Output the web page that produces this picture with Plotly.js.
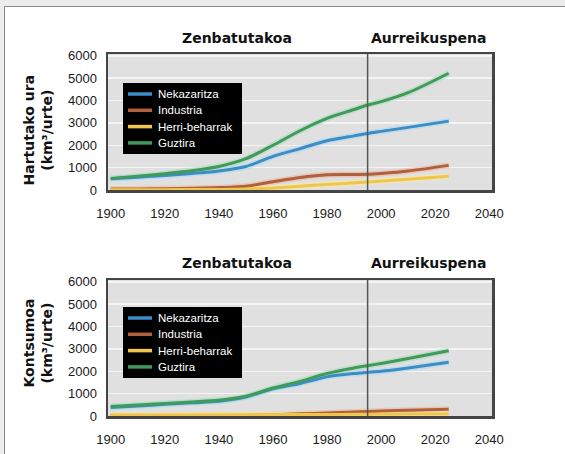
<!DOCTYPE html>
<html>
<head>
<meta charset="utf-8">
<script src="https://cdn.plot.ly/plotly-3.0.1.min.js"></script>
<style>
html,body{margin:0;padding:0;background:#ececec;overflow:hidden;}
#panel{position:absolute;left:4px;top:6px;width:570px;height:460px;background:#fff;border:1px solid #8a8a8a;}
#chart{position:absolute;left:0;top:0;width:565px;height:454px;}
</style>
</head>
<body>
<div id="panel"></div>
<div id="chart"></div>
<script>
// ---- data ----
const years = [1900, 1910, 1920, 1930, 1940, 1950, 1960, 1970, 1980, 1990, 1995, 2000, 2010, 2025];
const seriesNames = ["Nekazaritza", "Industria", "Herri-beharrak", "Guztira"];
const seriesColors = ["#3d8cc4", "#b0603c", "#f0c64a", "#3f9a5c"];
const haloColors = ["#a9d8f5", "#e8b8a0", "#fbe7a0", "#a9dcb8"];

// Hartutako ura (withdrawal), km3/urte
const withdrawNekazaritza = [500, 570, 650, 740, 850, 1050, 1500, 1850, 2200, 2420, 2530, 2620, 2800, 3080];
const withdrawIndustria   = [40, 50, 60, 80, 110, 170, 370, 560, 680, 690, 700, 740, 850, 1100];
const withdrawHerri       = [10, 12, 15, 20, 25, 40, 90, 170, 250, 320, 360, 400, 480, 620];
const withdrawGuztira     = [520, 620, 730, 860, 1050, 1400, 2000, 2650, 3200, 3600, 3800, 3950, 4350, 5220];

// Kontsumoa (consumption), km3/urte
const consumeNekazaritza = [380, 450, 520, 590, 660, 850, 1220, 1450, 1750, 1900, 1950, 2000, 2150, 2400];
const consumeIndustria   = [10, 12, 15, 18, 20, 25, 50, 100, 130, 180, 200, 220, 260, 300];
const consumeHerri       = [50, 50, 50, 50, 50, 55, 60, 65, 70, 75, 80, 80, 85, 90];
const consumeGuztira     = [420, 490, 560, 630, 700, 880, 1250, 1550, 1900, 2150, 2250, 2350, 2570, 2920];

const xTicks = [1900, 1920, 1940, 1960, 1980, 2000, 2020, 2040];
const yTicks = [0, 1000, 2000, 3000, 4000, 5000, 6000];
const panelTitleLeft = "Zenbatutakoa";
const panelTitleRight = "Aurreikuspena";
const splitYear = 1995;
const yTitleTop = "Hartutako ura<br>(km³/urte)";
const yTitleBottom = "Kontsumoa<br>(km³/urte)";

// ---- helpers ----
const W = 565, H = 454;
const px = v => v / W;
const py = v => 1 - v / H;

const narrow = '"Liberation Sans Narrow", "Liberation Sans", sans-serif';
const tickFont = {family: narrow, size: 13, color: '#1a1a1a'};
const boldFont = {family: '"DejaVu Sans", sans-serif', size: 14, color: '#111', weight: 'bold'};

// ---- traces ----
const topData = [withdrawNekazaritza, withdrawIndustria, withdrawHerri, withdrawGuztira];
const botData = [consumeNekazaritza, consumeIndustria, consumeHerri, consumeGuztira];
const traces = [];
function addSeries(dataSets, xa, ya) {
  dataSets.forEach((ys, i) => {
    traces.push({x: years, y: ys, type: 'scatter', mode: 'lines', showlegend: false, hoverinfo: 'skip',
      line: {color: haloColors[i], width: 6, shape: 'spline', smoothing: 0.8}, opacity: 0.6,
      xaxis: xa, yaxis: ya, cliponaxis: false});
  });
  dataSets.forEach((ys, i) => {
    traces.push({x: years, y: ys, type: 'scatter', mode: 'lines', name: seriesNames[i], showlegend: false,
      line: {color: seriesColors[i], width: 3, shape: 'spline', smoothing: 0.8},
      xaxis: xa, yaxis: ya, cliponaxis: false});
  });
}
addSeries(topData, 'x', 'y');
addSeries(botData, 'x2', 'y2');

function xAxis(anchor) {
  return {domain: [px(108), px(492)], range: [1899, 2041], tickvals: xTicks, ticktext: xTicks.map(String),
    showgrid: false, zeroline: false, showline: true, mirror: true, linecolor: '#454545', linewidth: 2.5,
    ticks: '', tickfont: tickFont, ticklabelstandoff: 10, anchor: anchor, fixedrange: true};
}
function yAxis(anchor, domain) {
  return {domain: domain, range: [0, 6080], tickvals: yTicks, ticktext: yTicks.map(String),
    showgrid: true, gridcolor: '#f4f4f4', gridwidth: 1.5, zeroline: false, showline: true, mirror: true,
    linecolor: '#454545', linewidth: 2.5, ticks: '', tickfont: tickFont, ticklabelstandoff: 6, anchor: anchor,
    fixedrange: true};
}

const shapes = [
  {type: 'line', xref: 'x', yref: 'y domain', x0: splitYear, x1: splitYear, y0: 0, y1: 1,
    line: {color: '#555', width: 1.5}},
  {type: 'line', xref: 'x2', yref: 'y2 domain', x0: splitYear, x1: splitYear, y0: 0, y1: 1,
    line: {color: '#555', width: 1.5}}
];
const yTitleFont = {family: '"DejaVu Sans", sans-serif', size: 14, color: '#111', weight: 'bold'};
const annotations = [
  {text: panelTitleLeft, xref: 'paper', yref: 'paper', x: px(237), y: py(38), xanchor: 'center', yanchor: 'middle', showarrow: false, font: boldFont},
  {text: panelTitleRight, xref: 'paper', yref: 'paper', x: px(428), y: py(38), xanchor: 'center', yanchor: 'middle', showarrow: false, font: boldFont},
  {text: panelTitleLeft, xref: 'paper', yref: 'paper', x: px(237), y: py(263), xanchor: 'center', yanchor: 'middle', showarrow: false, font: boldFont},
  {text: panelTitleRight, xref: 'paper', yref: 'paper', x: px(428), y: py(263), xanchor: 'center', yanchor: 'middle', showarrow: false, font: boldFont},
  {text: yTitleTop, xref: 'paper', yref: 'paper', x: px(37.5), y: py(130), xanchor: 'center', yanchor: 'middle', textangle: -90, showarrow: false, font: yTitleFont},
  {text: yTitleBottom, xref: 'paper', yref: 'paper', x: px(37.5), y: py(343), xanchor: 'center', yanchor: 'middle', textangle: -90, showarrow: false, font: yTitleFont}
];
// legends: black box with swatches and names taken from the arrays
function addLegend(top) {
  shapes.push({type: 'rect', xref: 'paper', yref: 'paper', x0: px(123), x1: px(242), y0: py(top + 71), y1: py(top),
    fillcolor: '#000', line: {width: 0}});
  seriesNames.forEach((name, i) => {
    const yy = top + 11 + i * 16.3;
    shapes.push({type: 'line', xref: 'paper', yref: 'paper', x0: px(128), x1: px(152), y0: py(yy), y1: py(yy),
      line: {color: seriesColors[i], width: 3.5}});
    annotations.push({text: name, xref: 'paper', yref: 'paper', x: px(156), y: py(yy), xanchor: 'left', yanchor: 'middle',
      showarrow: false, font: {family: narrow, size: 11.5, color: '#fff'}});
  });
}
addLegend(83);
addLegend(307);

const layout = {
  width: W, height: H,
  margin: {l: 0, r: 0, t: 0, b: 0},
  paper_bgcolor: 'rgba(0,0,0,0)',
  plot_bgcolor: '#e0e0e0',
  showlegend: false,
  xaxis: xAxis('y'),
  yaxis: yAxis('x', [py(190), py(54)]),
  xaxis2: xAxis('y2'),
  yaxis2: yAxis('x2', [py(416), py(280)]),
  shapes: shapes,
  annotations: annotations
};

Plotly.newPlot('chart', traces, layout, {displayModeBar: false, staticPlot: true});
</script>
</body>
</html>
